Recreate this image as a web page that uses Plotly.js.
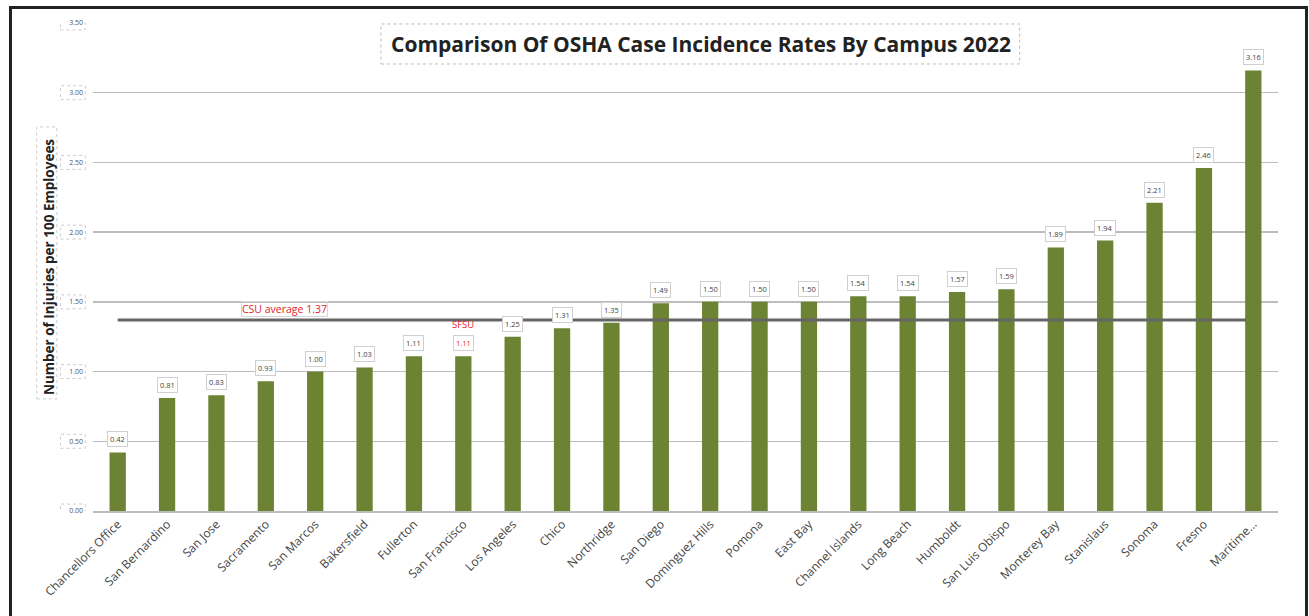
<!DOCTYPE html>
<html><head><meta charset="utf-8">
<script src="https://cdn.plot.ly/plotly-3.0.1.min.js"></script>
<style>
html,body{margin:0;padding:0;background:#fff;}
#wrap{position:relative;width:1309px;height:616px;overflow:hidden;}
#chart{position:absolute;left:0;top:0;width:1309px;height:616px;}
#frame{position:absolute;left:9px;top:6px;width:1293px;height:640px;border:3px solid #222;pointer-events:none;}
</style></head>
<body><div id="wrap"><div id="chart"></div><div id="frame"></div></div>
<script>
const campuses = ["Chancellors Office","San Bernardino","San Jose","Sacramento","San Marcos","Bakersfield","Fullerton","San Francisco","Los Angeles","Chico","Northridge","San Diego","Dominguez Hills","Pomona","East Bay","Channel Islands","Long Beach","Humboldt","San Luis Obispo","Monterey Bay","Stanislaus","Sonoma","Fresno","Maritime..."];
const rates = [0.42,0.81,0.83,0.93,1.00,1.03,1.11,1.11,1.25,1.31,1.35,1.49,1.50,1.50,1.50,1.54,1.54,1.57,1.59,1.89,1.94,2.21,2.46,3.16];
const csuAverage = 1.37;
const highlightCampus = "San Francisco";
const highlightLabel = "SFSU";
const yTicks = [0,0.5,1.0,1.5,2.0,2.5,3.0,3.5];
const chartTitle = "Comparison Of OSHA Case Incidence Rates By Campus 2022";
const yTitle = "Number of Injuries per 100 Employees";

const font = "'Open Sans', sans-serif";
const annotations = campuses.map((c,i)=>{
  const hl = c===highlightCampus;
  return {x:c, y:rates[i], xref:'x', yref:'y', text:rates[i].toFixed(2), showarrow:false,
    yanchor:'bottom', yshift:5, font:{family:font,size:7.5,color:hl?'#e8202a':'#444'},
    bordercolor:'#cfcfcf', borderwidth:1, borderpad:2, bgcolor:'#fff'};
});
const hi = campuses.indexOf(highlightCampus);
annotations.push({x:campuses[hi], y:rates[hi], xref:'x', yref:'y', text:highlightLabel, showarrow:false,
  yanchor:'bottom', yshift:23, font:{family:font,size:9.5,color:'#e8202a'}});
annotations.push({x:3.38, y:csuAverage, xref:'x', yref:'y', text:'CSU average '+csuAverage.toFixed(2), showarrow:false,
  yanchor:'bottom', yshift:3, font:{family:font,size:10.5,color:'#e8202a'},
  bordercolor:'#d6d6d6', borderwidth:1, borderpad:0});

const shapes = [
  {type:'line', xref:'x', yref:'y', x0:0, x1:22.85, y0:csuAverage, y1:csuAverage, line:{color:'#666',width:3}, layer:'above'},
  {type:'rect', xref:'paper', yref:'paper', x0:0.243, x1:0.782, y0:0.916, y1:0.998, line:{color:'#bbb',width:1,dash:'dot'}, fillcolor:'#fff', layer:'below'},
  {type:'rect', xref:'paper', yref:'paper', x0:-0.0475, x1:-0.0305, y0:0.2296, y1:0.787, line:{color:'#ccc',width:1,dash:'dot'}, layer:'below'}
];
yTicks.forEach(v=>shapes.push({type:'rect', xref:'paper', yref:'y', x0:-0.0275, x1:-0.0065, y0:v-0.05, y1:v+0.05,
  line:{color:'#ccc',width:1,dash:'dot'}, layer:'below'}));

const trace = {type:'bar', x:campuses, y:rates, marker:{color:'#6b8332'}, hoverinfo:'x+y'};
const layout = {
  width:1309, height:616, margin:{l:93,r:31,t:23,b:105},
  paper_bgcolor:'#fff', plot_bgcolor:'#fff', showlegend:false, bargap:0.67,
  font:{family:font,color:'#333'},
  title:{text:'<b>'+chartTitle+'</b>', x:0.5355, xanchor:'center', y:0.927, yanchor:'middle', font:{family:font,size:21,color:'#222'}},
  xaxis:{type:'category', tickangle:-45, tickfont:{family:font,size:12,color:'#444'}, showgrid:false,
    showline:true, linecolor:'#bdbdbd', linewidth:1.5, ticks:'', range:[-0.5,23.5]},
  yaxis:{range:[0,3.5], tickvals:yTicks, tickformat:'.2f', tickfont:{family:font,size:7,color:'#555'},
    gridcolor:'#bdbdbd', gridwidth:1.5, zeroline:false, showline:false, ticks:'', ticklabelstandoff:9,
    title:{text:'<b>'+yTitle+'</b>', font:{family:font,size:13.5,color:'#222'}, standoff:11}},
  shapes:shapes,
  annotations:annotations
};
Plotly.newPlot('chart',[trace],layout,{displayModeBar:false,staticPlot:true});
</script></body></html>
